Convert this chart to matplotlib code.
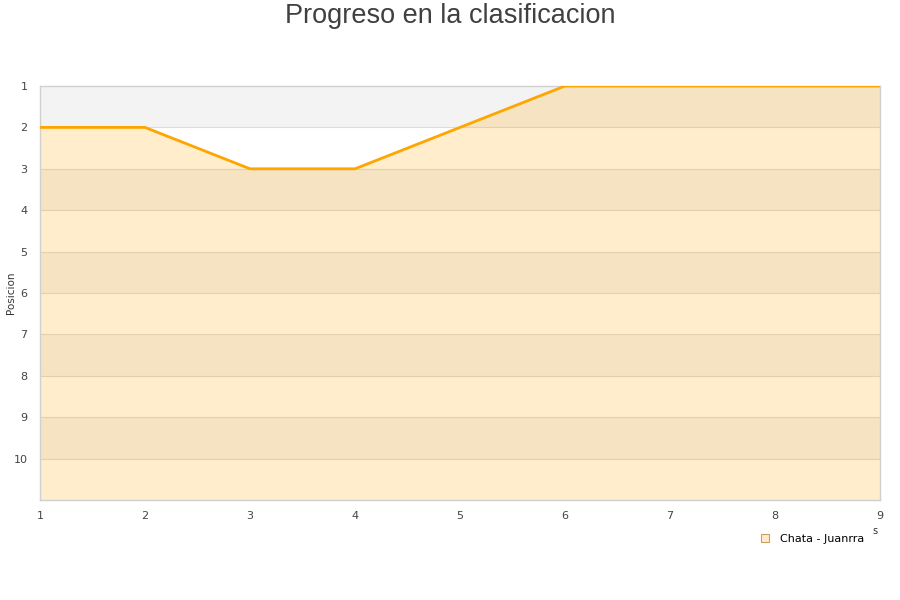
"""
Progreso en la clasificacion: posicion por jornada (eje Y invertido)
"""
import matplotlib
matplotlib.use('Agg')
import matplotlib.pyplot as plt
from matplotlib.lines import Line2D

jornadas = [1, 2, 3, 4, 5, 6, 7, 8, 9]
posicion = [2, 2, 3, 3, 2, 1, 1, 1, 1]
serie = 'Chata - Juanrra'
y_ticks = list(range(1, 11))
y_max = 11

plt.rcParams['font.family'] = ['DejaVu Sans']

fig = plt.figure(figsize=(9, 6), dpi=100)
ax = fig.add_axes([40 / 900, 1 - 500 / 600, 840 / 900, 414 / 600])

# bandas alternas del fondo
for i, t in enumerate(y_ticks):
    if i % 2 == 0:
        ax.axhspan(t, t + 1, color='#f3f3f3', zorder=0, lw=0)
for t in y_ticks[1:]:
    ax.axhline(t, color='#dcdcdc', lw=0.8, zorder=0.5)

ax.fill_between(jornadas, posicion, y_max, color='#ffa500', alpha=0.2, lw=0, zorder=1)
ax.plot(jornadas, posicion, color='#ffa500', lw=2.0, zorder=3, solid_capstyle='butt')

ax.set_xlim(1, 9)
ax.set_ylim(y_max, 1)
ax.set_xticks(jornadas)
ax.set_yticks(y_ticks)
ax.tick_params(length=0, labelsize=8, colors='#444444', pad=8)
ax.tick_params(axis='y', pad=9)
for s in ax.spines.values():
    s.set_color('#d0d0d0')
    s.set_linewidth(1)

fig.text(11 / 900, 1 - 293 / 600, 'Posicion', rotation=90, ha='center', va='center',
         fontsize=7.5, color='#333333')

fig.text(0.5, 1 - 16 / 600, 'Progreso en la clasificacion', ha='center', va='center',
         fontsize=19.5, color='#404040', family='Liberation Sans')
fig.text(875 / 900, 1 - 531 / 600, 's', ha='center', va='center', fontsize=7, color='#333333')

handle = Line2D([], [], marker='s', linestyle='none', markersize=6,
                markerfacecolor='#ffebcc', markeredgecolor='#c8a060', markeredgewidth=0.8)
fig.legend([handle], [serie], loc='center', bbox_to_anchor=(809 / 900, 1 - 539 / 600),
           frameon=False, fontsize=8, handletextpad=0.4, borderaxespad=0)

fig.savefig('out.png', dpi=100)
